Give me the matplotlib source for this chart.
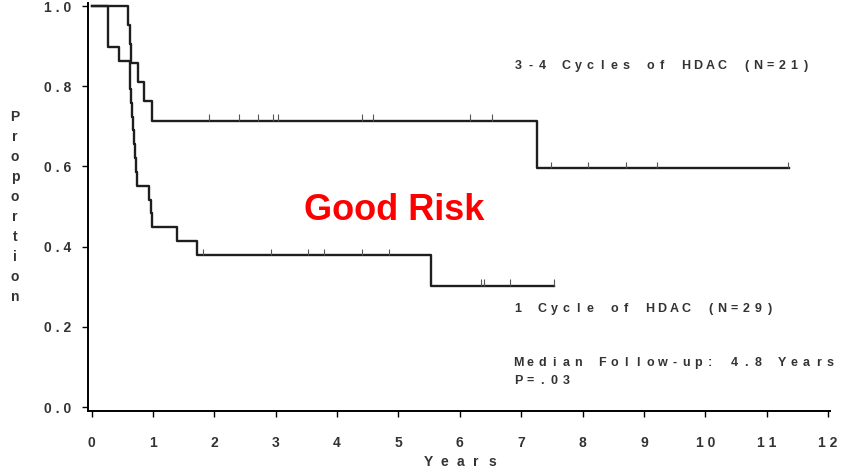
import numpy as np
import matplotlib
matplotlib.use("Agg")
import matplotlib.pyplot as plt
from matplotlib.transforms import offset_copy

plt.rcParams['font.family'] = ['Liberation Sans', 'DejaVu Sans']

# 3-4 cycles of HDAC (N=21): event times and survival after each event
t_multi = [0.60, 0.62, 0.64, 0.75, 0.85, 0.99, 7.26]
s_multi = [0.952, 0.905, 0.857, 0.810, 0.762, 0.714, 0.595]
end_multi = 11.36
cens_multi = [1.91, 2.41, 2.72, 2.96, 3.03, 4.41, 4.58, 6.17, 6.53,
              7.48, 8.09, 8.71, 9.22, 11.35]

# 1 cycle of HDAC (N=29)
t_single = [0.27, 0.45, 0.62, 0.63, 0.645, 0.66, 0.675, 0.69, 0.705, 0.72,
            0.74, 0.76, 0.78, 0.93, 0.97, 0.98, 1.40, 1.72, 5.53]
s_single = [0.897, 0.862, 0.828, 0.793, 0.759, 0.724, 0.690, 0.655, 0.621,
            0.586, 0.552, 0.552, 0.552, 0.517, 0.483, 0.448, 0.414, 0.379, 0.303]
end_single = 7.54
cens_single = [1.81, 2.92, 3.53, 3.78, 4.41, 4.85, 6.34, 6.39, 6.82, 7.53]

xticks = list(range(0, 13))
yticks = [0.0, 0.2, 0.4, 0.6, 0.8, 1.0]

INK = '#1e1e1e'
TXT = '#333333'


def surv_at(times, surv, x):
    idx = np.searchsorted(times, x, side='right') - 1
    return 1.0 if idx < 0 else surv[idx]


def mono_text(fig, trans, x, y, s, pitch_px, vertical=False, **kw):
    # old SAS style: every character sits in a fixed-width cell
    pitch = pitch_px * 72.0 / fig.dpi
    for i, ch in enumerate(s):
        if ch == ' ':
            continue
        if vertical:
            tr = offset_copy(trans, fig=fig, x=0, y=-i * pitch, units='points')
        else:
            tr = offset_copy(trans, fig=fig, x=i * pitch, y=0, units='points')
        fig.text(x, y, ch, transform=tr, ha='center', va='center', **kw)


fig = plt.figure(figsize=(8.44, 4.70), dpi=100)
ax = fig.add_axes([0.1043, 0.1255, 0.879, 0.8685])

for t, s, end, cens in [(t_multi, s_multi, end_multi, cens_multi),
                        (t_single, s_single, end_single, cens_single)]:
    xs = [0] + t + [end]
    ys = [1.0] + s + [s[-1]]
    ax.step(xs, ys, where='post', color=INK, lw=1.7)
    cy = np.array([surv_at(t, s, c) for c in cens])
    ax.vlines(cens, cy, cy + 0.016, color='#555555', lw=0.8)

ax.set_xlim(-0.057, 12.03)
ax.set_ylim(-0.01, 1.008)
ax.spines['top'].set_visible(False)
ax.spines['right'].set_visible(False)
ax.spines['left'].set_linewidth(1.4)
ax.spines['bottom'].set_linewidth(1.4)

ax.set_xticks(xticks)
ax.set_xticklabels([" ".join(str(v)) for v in xticks], fontsize=10,
                   color=TXT, fontweight='bold')
ax.set_yticks(yticks)
ax.set_yticklabels([" ".join(f"{v:.1f}") for v in yticks], fontsize=10,
                   color=TXT, fontweight='bold')
ax.tick_params(direction='out', length=4, width=1, pad=14)
ax.tick_params(axis='y', pad=8)

# axis titles
mono_text(fig, fig.transFigure, 428 / 844, 1 - 462 / 470, "Years", 16,
          fontsize=10, color=TXT, fontweight='bold')
mono_text(fig, fig.transFigure, 15 / 844, 1 - 117 / 470, "Proportion", 20,
          vertical=True, fontsize=10, color=TXT, fontweight='bold')

# annotations
note = dict(fontsize=9, color=TXT, fontweight='bold')
mono_text(fig, ax.transData, 6.95, 0.85, "3-4 Cycles of HDAC (N=21)", 12, **note)
mono_text(fig, ax.transData, 6.95, 0.245, "1 Cycle of HDAC (N=29)", 12, **note)
mono_text(fig, ax.transData, 6.95, 0.11, "Median Follow-up: 4.8 Years", 12, **note)
mono_text(fig, ax.transData, 6.95, 0.065, "P=.03", 12, **note)

ax.text(4.93, 0.49, "Good Risk", fontsize=26, fontweight='bold', color='#ff0000',
        ha='center', va='center')

fig.savefig("out.png", dpi=100)
